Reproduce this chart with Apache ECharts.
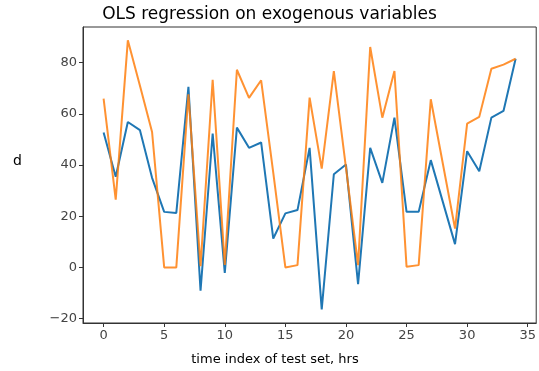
<!DOCTYPE html>
<html>
<head>
<meta charset="utf-8">
<script src="https://cdn.jsdelivr.net/npm/echarts@6/dist/echarts.min.js"></script>
<style>
  html, body { margin: 0; padding: 0; background: #fff; }
  #chart { width: 539px; height: 371px; }
</style>
</head>
<body>
<div id="chart"></div>
<script>
// 测试集时间索引 0..34
const timeIndex = [0, 1, 2, 3, 4, 5, 6, 7, 8, 9, 10, 11, 12, 13, 14, 15, 16, 17,
  18, 19, 20, 21, 22, 23, 24, 25, 26, 27, 28, 29, 30, 31, 32, 33, 34];
// 蓝线
const blueValues = [52.7, 35.4, 56.8, 53.6, 35, 21.7, 21.3, 70.5, -9.1, 52.3, -2.1, 54.6,
  46.7, 48.8, 11.3, 21.1, 22.4, 46.7, -16.4, 36.4, 40.2, -6.5, 46.7, 33, 58.5, 21.7,
  21.7, 41.9, 25.5, 9.1, 45.4, 37.6, 58.5, 61.1, 81.5];
// 橙线
const orangeValues = [65.9, 26.5, 88.7, 71, 52.9, 0, 0, 67.6, 0.5, 73.3, 1, 77.2,
  66.2, 73.1, 37, 0, 0.9, 66.3, 38.6, 76.7, 39, 0.9, 86.1, 58.5, 76.7, 0.3,
  0.9, 65.7, 40.4, 15.2, 56.2, 58.8, 77.6, 79.2, 81.5];
const xTicks = [0, 5, 10, 15, 20, 25, 30, 35];
const yTicks = [-20, 0, 20, 40, 60, 80];

const font = 'DejaVu Sans, sans-serif';
const chart = echarts.init(document.getElementById('chart'), null, { renderer: 'canvas' });

const pairs = (ys) => timeIndex.map((x, i) => [x, ys[i]]);

chart.setOption({
  animation: false,
  title: {
    text: 'OLS regression on exogenous variables',
    left: 'center',
    top: 1,
    textStyle: { fontFamily: font, fontSize: 17, fontWeight: 'normal', color: '#000' },
  },
  // 轴名用 graphic 放，位置按原图对齐（不在轴中点）
  graphic: [{
    type: 'text',
    left: 13, top: 154,
    style: { text: 'd', fontFamily: font, fontSize: 14, fill: '#000' },
  }, {
    type: 'text',
    x: 275, y: 360,
    style: {
      text: 'time index of test set, hrs', fontFamily: font, fontSize: 13, fill: '#000',
      align: 'center', verticalAlign: 'middle',
    },
  }],
  grid: {
    left: 83, right: 2, top: 27, bottom: 48,
    show: true, borderColor: '#333', borderWidth: 1,
  },
  xAxis: {
    type: 'value',
    min: -1.7, max: 35.7,
    axisLine: { show: true, onZero: false, lineStyle: { color: '#333' } },
    axisTick: { show: true, customValues: xTicks, length: 4, lineStyle: { color: '#333' } },
    axisLabel: { customValues: xTicks, fontFamily: font, fontSize: 13, color: '#444', margin: 6 },
    splitLine: { show: false },
  },
  yAxis: {
    type: 'value',
    min: -21.7, max: 93.9,
    axisLine: { show: true, onZero: false, lineStyle: { color: '#333' } },
    axisTick: { show: true, customValues: yTicks, length: 4, lineStyle: { color: '#333' } },
    axisLabel: {
      customValues: yTicks, fontFamily: font, fontSize: 13, color: '#444', margin: 6,
      formatter: (v) => (v < 0 ? '\u2212' + Math.abs(v) : String(v)),
    },
    splitLine: { show: false },
  },
  series: [
    {
      type: 'line',
      data: pairs(blueValues),
      showSymbol: false,
      lineStyle: { color: '#1f77b4', width: 2 },
      itemStyle: { color: '#1f77b4' },
    },
    {
      type: 'line',
      data: pairs(orangeValues),
      showSymbol: false,
      lineStyle: { color: '#ff7f0e', width: 2, opacity: 0.85 },
      itemStyle: { color: '#ff7f0e' },
    },
  ],
});
</script>
</body>
</html>
